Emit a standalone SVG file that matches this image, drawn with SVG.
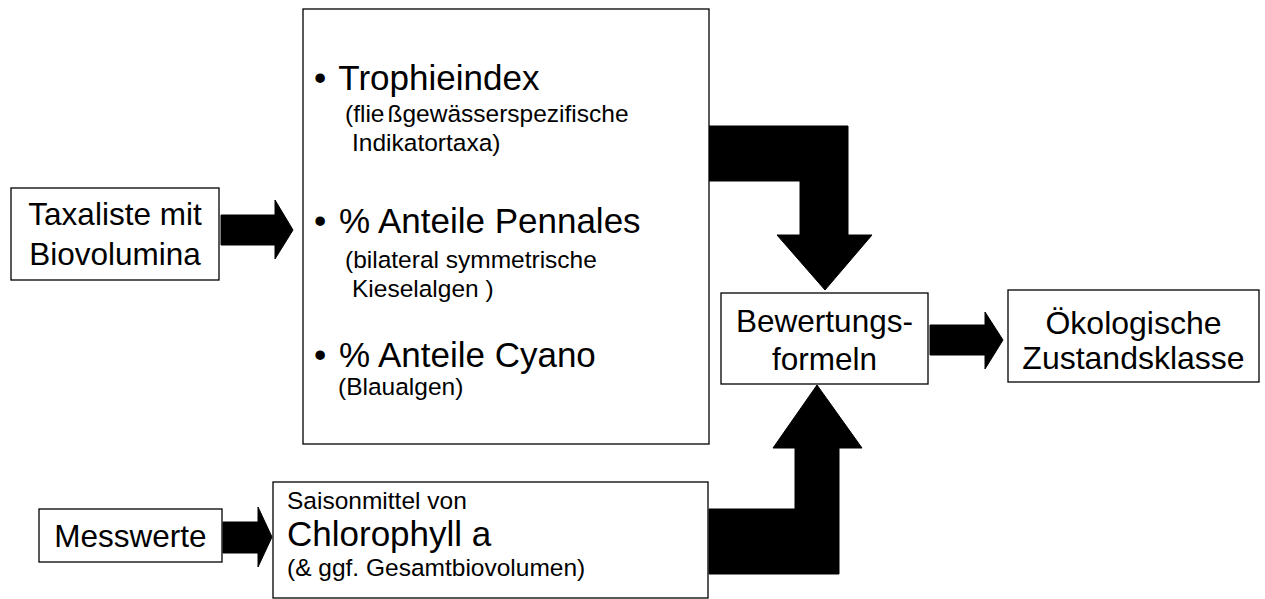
<svg xmlns="http://www.w3.org/2000/svg" width="1265" height="599" viewBox="0 0 1265 599">
<style>
.box{fill:#fff;stroke:#000;stroke-width:1.3}
.arr{fill:#000;stroke:#000;stroke-width:1}
text{font-family:"Liberation Sans",Arial,Helvetica,sans-serif;fill:#000}
.big{font-size:31.5px}
.hd{font-size:35px}
.sm{font-size:24.5px}
.c{text-anchor:middle}
</style>
<rect width="1265" height="599" fill="#fff"/>
<g id="connectors">
<polygon class="arr" points="221,215 275,215 275,200 293,230 275,259 275,245 221,245"/>
<polygon class="arr" points="709,126 848,126 848,235 872,235 825,290 777,235 800,235 800,181 709,181"/>
<polygon class="arr" points="930,325 985,325 985,312 1003,340 985,369 985,355 930,355"/>
<polygon class="arr" points="223,522 258,522 258,507 272,537 258,567 258,553 223,553"/>
<polygon class="arr" points="709,509 795,509 795,448 773,448 817,385 862,448 839,448 839,574 709,574"/>
</g>
<g id="taxaliste">
<rect class="box" x="11" y="188" width="208" height="92"/>
<text class="big c" x="115" y="225">Taxaliste mit</text>
<text class="big c" x="115" y="265">Biovolumina</text>
</g>
<g id="indices">
<rect class="box" x="303" y="9" width="406" height="435"/>
<text class="hd" x="314" y="90">•<tspan dx="3"> Trophieindex</tspan></text>
<text class="sm" x="345" y="122">(flie<tspan dx="3">ß</tspan>gewässerspezifische</text>
<text class="sm" x="352" y="151">Indikatortaxa)</text>
<text class="hd" x="314" y="233">•<tspan dx="3"> % Anteile Pennales</tspan></text>
<text class="sm" x="345" y="268">(bilateral symmetrische</text>
<text class="sm" x="352" y="297">Kieselalgen )</text>
<text class="hd" x="314" y="367">•<tspan dx="3"> % Anteile Cyano</tspan></text>
<text class="sm" x="338" y="395">(Blaualgen)</text>
</g>
<g id="bewertung">
<rect class="box" x="721" y="293" width="207" height="91"/>
<text class="big c" x="824.5" y="332">Bewertungs-</text>
<text class="big c" x="824.5" y="370">formeln</text>
</g>
<g id="zustand">
<rect class="box" x="1008" y="290" width="251" height="92"/>
<text class="c" style="font-size:32px" x="1133.5" y="334">Ökologische</text>
<text class="c" style="font-size:32px" x="1133.5" y="369">Zustandsklasse</text>
</g>
<g id="messwerte">
<rect class="box" x="39" y="509" width="183" height="53"/>
<text class="big c" x="130.5" y="547">Messwerte</text>
</g>
<g id="chlorophyll">
<rect class="box" x="273" y="482" width="435" height="116"/>
<text class="sm" x="287" y="509">Saisonmittel von</text>
<text class="hd" x="287" y="546">Chlorophyll a</text>
<text class="sm" x="287" y="576">(&amp; ggf. Gesamtbiovolumen)</text>
</g>
</svg>
